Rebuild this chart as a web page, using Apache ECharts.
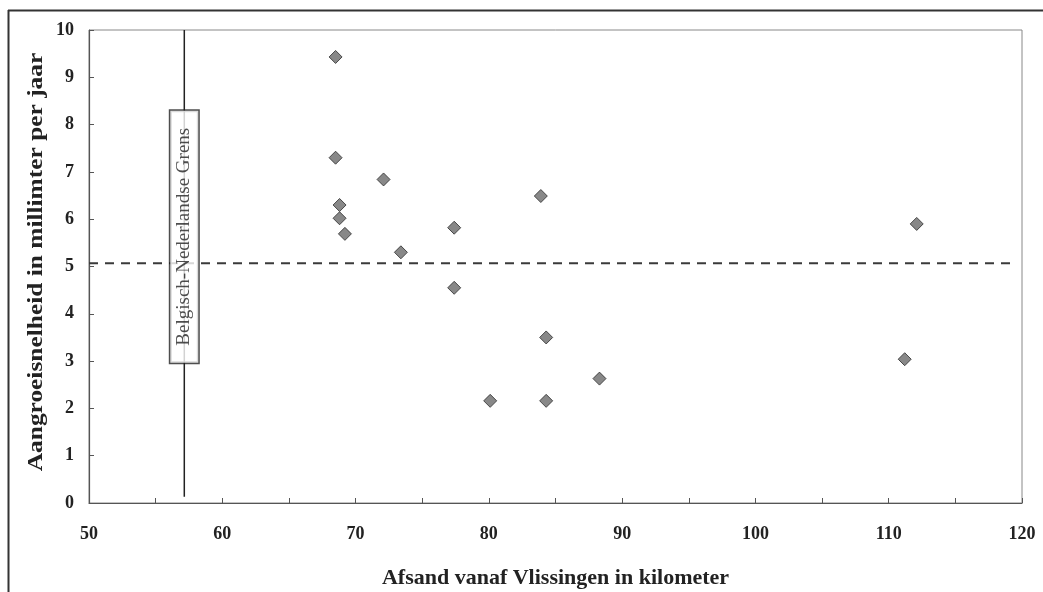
<!DOCTYPE html>
<html>
<head>
<meta charset="utf-8">
<script src="https://cdn.jsdelivr.net/npm/echarts@6/dist/echarts.min.js"></script>
<style>html,body{margin:0;padding:0;background:#fff}#c{width:1043px;height:592px}</style>
</head>
<body>
<div id="c"></div>
<script>
// Data
const distanceKm = [68.5, 68.5, 68.8, 68.8, 69.2, 72.1, 73.4, 77.4, 77.4, 80.1, 83.9, 84.3, 84.3, 88.3, 111.2, 112.1];
const growthMm   = [9.43, 7.30, 6.30, 6.02, 5.69, 6.84, 5.30, 5.82, 4.55, 2.16, 6.49, 3.50, 2.16, 2.63, 3.04, 5.90];
const meanLine   = [[50, 5.07], [119.5, 5.07]];
const borderLine = [[57.15, 0.13], [57.15, 10]];
const borderLabelPos = [57.15, 5.63];
const borderLabel = 'Belgisch-Nederlandse Grens';
const xTitle = 'Afsand vanaf Vlissingen in kilometer';
const yTitle = 'Aangroeisnelheid in millimter per jaar';

const points = distanceKm.map((d, i) => [d, growthMm[i]]);
const serif = '"Liberation Serif", "Times New Roman", serif';

const chart = echarts.init(document.getElementById('c'));
chart.setOption({
  animation: false,
  backgroundColor: '#fff',
  grid: { left: 89, right: 21, top: 30, bottom: 89, containLabel: false, outerBoundsMode: 'none',
          show: true, borderColor: '#888', borderWidth: 1 },
  xAxis: {
    type: 'value', min: 50, max: 120, interval: 5,
    name: xTitle, nameLocation: 'middle', nameGap: 64,
    nameTextStyle: { fontFamily: serif, fontWeight: 'bold', fontSize: 22, color: '#222' },
    axisLine: { lineStyle: { color: '#555', width: 1.2 } },
    axisTick: { inside: true, length: 5, lineStyle: { color: '#555' } },
    axisLabel: { margin: 22, fontFamily: serif, fontWeight: 'bold', fontSize: 18, color: '#222',
      formatter: v => (v % 10 === 0 ? String(v) : '') },
    splitLine: { show: false }
  },
  yAxis: {
    type: 'value', min: 0, max: 10, interval: 1,
    axisLine: { show: true, lineStyle: { color: '#555', width: 1.2 } },
    axisTick: { show: true, inside: true, length: 5, lineStyle: { color: '#555' } },
    axisLabel: { margin: 15, fontFamily: serif, fontWeight: 'bold', fontSize: 18, color: '#222' },
    splitLine: { show: false }
  },
  graphic: [
    { type: 'line', shape: { x1: 8, y1: 10.5, x2: 1043, y2: 10.5 }, style: { stroke: '#333', lineWidth: 2 } },
    { type: 'line', shape: { x1: 8.5, y1: 10, x2: 8.5, y2: 592 }, style: { stroke: '#333', lineWidth: 2 } },
    {
      type: 'text', x: 37, y: 262, rotation: Math.PI / 2, scaleX: 1.27,
      style: { text: yTitle, fontFamily: serif, fontWeight: 'bold', fontSize: 20, fill: '#222',
               align: 'center', verticalAlign: 'middle' }
    }
  ],
  series: [
    {
      type: 'line', data: borderLine, symbol: 'none', silent: true,
      lineStyle: { color: '#222', width: 1.5 }, z: 2
    },
    {
      type: 'line', data: meanLine, symbol: 'none', silent: true,
      lineStyle: { color: '#3a3a3a', width: 2, type: [9, 7] }, z: 2
    },
    {
      type: 'scatter', data: points, symbol: 'diamond', symbolSize: 13,
      itemStyle: { color: '#6a6a6a', borderColor: '#2a2a2a', borderWidth: 1 }, z: 3
    },
    {
      type: 'scatter', data: [borderLabelPos], symbolSize: 0, silent: true, z: 4,
      label: {
        show: true, position: 'inside', rotate: 90, formatter: borderLabel,
        fontFamily: serif, fontSize: 19, color: '#222',
        backgroundColor: '#fff', borderColor: '#222', borderWidth: 1.5,
        padding: [5, 17, 4, 17]
      }
    }
  ]
});
</script>
</body>
</html>
